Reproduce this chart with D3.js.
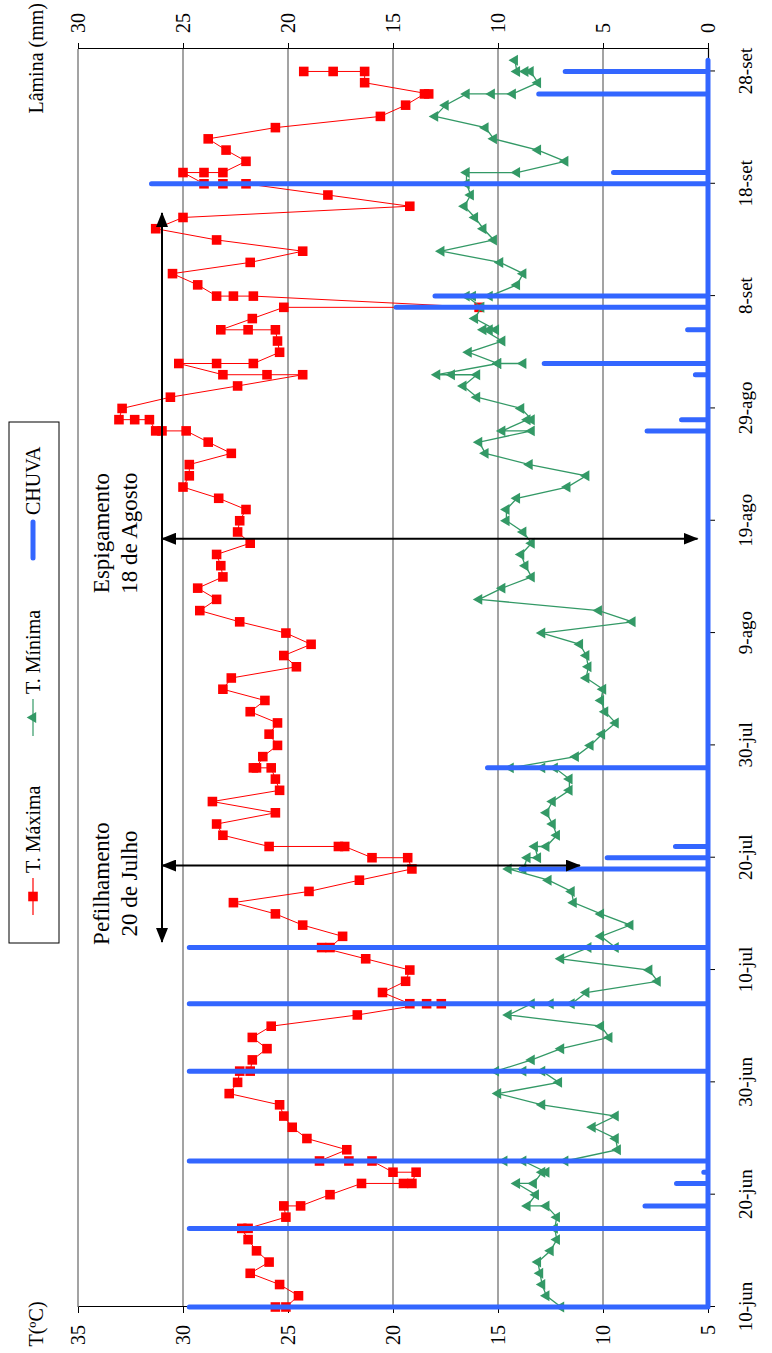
<!DOCTYPE html>
<html>
<head>
<meta charset="utf-8">
<script src="https://cdn.jsdelivr.net/npm/d3@7"></script>
<style>
  body { margin: 0; background: #fff; }
  svg { display: block; }
  text { font-family: "Liberation Serif", "Times New Roman", serif; fill: #000; }
</style>
</head>
<body>
<svg id="chart" width="772" height="1353"></svg>
<script>
// DATA SECTION
// day offsets from 10-jun, labels of the date axis
const dateTicks = [0, 10, 20, 30, 40, 50, 60, 70, 80, 90, 100, 110];
const dateLabels = ["10-jun", "20-jun", "30-jun", "10-jul", "20-jul", "30-jul",
                    "9-ago", "19-ago", "29-ago", "8-set", "18-set", "28-set"];
const tTicks = [5, 10, 15, 20, 25, 30, 35];
const rainTicks = [0, 5, 10, 15, 20, 25, 30];

// [day, °C] in the order of the records (some dates hold several records)
const tMax = [
  [0,25.6],[0,25.1],[1,24.5],[2,25.4],[3,26.8],[4,25.9],[5,26.5],[6,26.9],[7,27.2],[7,26.9],
  [8,25.1],[9,25.2],[9,24.4],[10,23.0],[11,21.5],[11,19.5],[11,19.1],[12,18.9],[12,20.0],
  [13,21.0],[13,22.1],[13,23.5],[14,22.2],[15,24.1],[16,24.8],[17,25.2],[18,25.4],[19,27.8],
  [20,27.4],[21,27.3],[21,26.8],[22,26.7],[23,26.0],[24,26.7],[25,25.8],[26,21.7],
  [27,18.4],[27,17.7],[27,19.2],[28,20.5],[29,19.4],[30,19.2],[31,21.3],[32,23.4],[32,23.0],
  [33,22.4],[34,24.3],[35,25.6],[36,27.6],[37,24.0],[38,21.6],[39,19.1],[40,19.3],[40,21.0],
  [41,22.3],[41,22.6],[41,25.9],[42,28.1],[43,28.4],[44,25.6],[45,28.6],[46,25.4],[47,25.6],
  [48,25.8],[48,26.65],[48,26.5],[49,26.2],[50,25.5],[51,25.9],[52,25.5],[53,26.8],[54,26.1],
  [55,28.1],[56,27.7],[57,24.6],[58,25.2],[59,23.9],[60,25.1],[61,27.3],[62,29.2],[63,28.4],
  [64,29.3],[65,28.1],[66,28.2],[67,28.4],[68,26.8],[69,27.4],[70,27.3],[71,27.0],[72,28.3],
  [73,30.0],[74,29.7],[75,29.7],[76,27.7],[77,28.8],[78,29.85],[78,31.0],[78,31.3],
  [79,31.6],[79,32.3],[79,33.05],[80,32.9],[81,30.6],[82,27.4],[83,24.3],[83,26.0],[83,28.1],
  [84,30.2],[84,28.4],[84,26.65],[85,25.4],[86,25.5],[87,25.6],[87,26.9],[87,28.2],[88,26.7],
  [89,25.2],[89,15.9],[90,26.65],[90,27.6],[90,28.4],[91,29.3],[92,30.5],[93,26.8],[94,24.3],
  [95,28.4],[96,31.3],[97,30.0],[98,19.2],[99,23.1],[100,27.0],[100,28.1],[100,29.0],
  [101,30.0],[101,29.0],[101,28.1],[102,27.0],[103,27.95],[104,28.8],[105,25.6],[106,20.6],
  [107,19.4],[108,18.5],[108,18.3],[109,21.35],[110,21.35],[110,22.85],[110,24.25]
];

const tMin = [
  [0,12.0],[1,12.7],[2,12.9],[3,13.0],[4,13.1],[5,12.5],[6,12.2],[7,12.3],[8,12.2],
  [9,12.7],[9,13.6],[10,13.2],[11,14.1],[11,13.3],[12,12.9],[12,12.7],[13,13.8],[13,14.7],
  [13,11.8],[14,9.3],[15,9.4],[16,10.5],[17,9.4],[18,12.9],[19,15.0],[20,12.1],
  [21,12.9],[21,13.8],[21,15.1],[22,13.4],[23,12.0],[24,9.7],[25,10.1],[26,14.5],
  [27,13.4],[27,12.5],[27,11.5],[28,10.8],[29,7.4],[30,7.8],[31,12.0],[32,10.7],[32,9.4],
  [33,10.1],[34,8.7],[35,10.1],[36,11.4],[37,11.5],[38,12.6],[39,14.5],[39,13.8],
  [40,13.6],[40,13.1],[41,13.25],[41,12.7],[42,12.2],[43,12.4],[44,12.7],[45,12.4],
  [46,11.6],[47,11.6],[48,12.3],[48,12.9],[48,14.4],[49,11.3],[50,10.6],[51,10.05],
  [52,9.4],[53,9.9],[54,10.1],[55,10.0],[56,10.8],[57,10.7],[58,10.8],[59,11.1],[60,12.9],
  [61,8.6],[62,10.2],[63,15.9],[64,14.8],[65,13.4],[66,13.7],[67,13.9],[68,13.4],[69,13.8],
  [70,14.6],[71,14.6],[72,14.1],[73,11.7],[74,10.8],[75,13.5],[76,15.6],[77,15.9],
  [78,13.4],[78,14.8],[79,13.6],[79,13.4],[80,13.9],[81,16.0],[82,16.65],[83,16.0],
  [83,17.2],[83,17.9],[84,15.0],[84,13.8],[84,15.0],[85,16.4],[86,14.8],[87,15.7],[87,15.4],
  [87,15.1],[88,16.1],[89,15.8],[90,16.5],[90,16.2],[90,15.4],[91,14.1],[92,13.8],[93,14.9],
  [94,17.7],[95,15.2],[96,15.7],[97,16.1],[98,16.6],[99,16.3],[100,16.5],[101,16.5],
  [101,14.1],[102,11.8],[103,13.1],[104,15.2],[105,15.6],[106,18.0],[107,17.5],[108,16.5],
  [108,15.3],[108,14.3],[109,13.1],[110,13.45],[110,13.7],[110,14.1],[111,14.2]
];

// rain (mm): days with rain and the amount
const rainDays = [0, 7, 9, 11, 12, 13, 21, 27, 32, 39, 40, 41, 48, 78, 79, 83, 84, 87, 89, 90, 100, 101, 108, 110];
const rainMm   = [24.7, 24.7, 3.0, 1.5, 0.2, 24.7, 24.7, 24.7, 24.7, 8.9, 4.8, 1.55, 10.5, 2.9, 1.26, 0.6, 7.8, 0.97, 14.85, 13.0, 26.5, 4.5, 8.06, 6.8];
const lastDay = 111;

// CHART SECTION
// the chart is drawn normally and then turned a quarter turn to the left
const W = 1258, H = 630;
const svg = d3.select('#chart');
const g = svg.append('g').attr('transform', 'translate(78,1307) rotate(-90)');

const x = d3.scaleLinear().domain([0, 112]).range([0, W]);
const yT = d3.scaleLinear().domain([5, 35]).range([H, 0]);
const yR = d3.scaleLinear().domain([0, 30]).range([H, 0]);

// grid lines
g.append('g').attr('class', 'grid')
  .selectAll('line')
  .data(tTicks.filter(t => t > 5))
  .enter().append('line')
  .attr('x1', 0).attr('x2', W)
  .attr('y1', d => yT(d)).attr('y2', d => yT(d))
  .attr('stroke', '#666').attr('stroke-width', 1.2);

// axes
let styleAxis = function(sel, size) {
  sel.select('.domain').attr('stroke', '#000').attr('stroke-width', 1.2);
  sel.selectAll('.tick line').attr('stroke', '#000');
  sel.selectAll('.tick text')
    .attr('font-family', '"Liberation Serif", serif')
    .attr('font-size', size)
    .attr('fill', '#000');
};

g.append('g')
  .call(d3.axisLeft(yT).tickValues(tTicks).tickSize(6).tickSizeOuter(0).tickPadding(12))
  .call(sel => styleAxis(sel, 20));

g.append('g')
  .attr('transform', `translate(${W},0)`)
  .call(d3.axisRight(yR).tickValues(rainTicks).tickSize(6).tickSizeOuter(0).tickPadding(10))
  .call(sel => styleAxis(sel, 20));

g.append('g')
  .attr('transform', `translate(0,${H})`)
  .call(d3.axisBottom(x).tickValues(dateTicks).tickFormat((d, i) => dateLabels[i])
    .tickSize(7).tickSizeOuter(0).tickPadding(24))
  .call(sel => styleAxis(sel, 19));

// axis titles
g.append('text')
  .attr('x', -17).attr('y', -35)
  .attr('text-anchor', 'middle')
  .attr('font-size', 20)
  .text('T(ºC)');

g.append('text')
  .attr('x', 1304).attr('y', -35)
  .attr('text-anchor', 'end')
  .attr('font-size', 20)
  .text('Lâmina (mm)');

// temperature series
let line = d3.line().x(d => x(d[0]));

g.append('path')
  .datum(tMax)
  .attr('fill', 'none')
  .attr('stroke', '#ff0000')
  .attr('stroke-width', 1)
  .attr('d', line.y(d => yT(d[1])));

g.append('g').selectAll('path')
  .data(tMax)
  .enter().append('path')
  .attr('transform', d => `translate(${x(d[0])},${yT(d[1])})`)
  .attr('d', d3.symbol(d3.symbolSquare, 92))
  .attr('fill', '#ff0000');

g.append('path')
  .datum(tMin)
  .attr('fill', 'none')
  .attr('stroke', '#339966')
  .attr('stroke-width', 1.3)
  .attr('d', d3.line().x(d => x(d[0])).y(d => yT(d[1])));

g.append('g').selectAll('path')
  .data(tMin)
  .enter().append('path')
  .attr('transform', d => `translate(${x(d[0])},${yT(d[1])})`)
  .attr('d', d3.symbol(d3.symbolTriangle, 52))
  .attr('fill', '#339966');

// rain: one line on the zero level with a spike on every rainy date
const rainPts = [];
for (let d = 0; d <= lastDay; d++) {
  rainPts.push([d, 0]);
  let i = rainDays.indexOf(d);
  if (i >= 0) rainPts.push([d, rainMm[i]], [d, 0]);
}

g.append('path')
  .datum(rainPts)
  .attr('fill', 'none')
  .attr('stroke', '#3366ff')
  .attr('stroke-width', 5)
  .attr('stroke-linejoin', 'round')
  .attr('stroke-linecap', 'round')
  .attr('d', d3.line().x(d => x(d[0])).y(d => yR(d[1])));

// annotations
const defs = svg.append('defs');
defs.append('marker')
  .attr('id', 'head')
  .attr('viewBox', '0 0 15 12')
  .attr('markerWidth', 15).attr('markerHeight', 12)
  .attr('markerUnits', 'userSpaceOnUse')
  .attr('refX', 14).attr('refY', 6)
  .attr('orient', 'auto-start-reverse')
  .append('path').attr('d', 'M0,0L15,6L0,12Z').attr('fill', '#000');

let arrow = function(x1, y1, x2, y2) {
  g.append('line')
    .attr('x1', x1).attr('y1', y1).attr('x2', x2).attr('y2', y2)
    .attr('stroke', '#000').attr('stroke-width', 2)
    .attr('marker-start', 'url(#head)').attr('marker-end', 'url(#head)');
};

arrow(x(32.5), yT(31), x(97.4), yT(31));
arrow(x(39.3), yT(31), x(39.3), yT(11.1));
arrow(x(68.4), yT(31), x(68.4), yT(5.5));

let note = function(day, lines) {
  g.append('text')
    .attr('text-anchor', 'middle')
    .attr('font-size', 23)
    .selectAll('tspan')
    .data(lines)
    .enter().append('tspan')
    .attr('x', x(day))
    .attr('y', (d, i) => 31 + i * 28)
    .text(d => d);
};
note(37.7, ['Pefilhamento', '20 de Julho']);
note(68.9, ['Espigamento', '18 de Agosto']);

// legend
const legend = g.append('g').attr('transform', 'translate(364,-69)');
legend.append('rect')
  .attr('width', 521).attr('height', 50)
  .attr('fill', '#fff').attr('stroke', '#000').attr('stroke-width', 1);

const legendItems = [
  {name: 'T. Máxima', color: '#ff0000', at: 28, kind: 'square'},
  {name: 'T. Mínima', color: '#339966', at: 207, kind: 'triangle'},
  {name: 'CHUVA', color: '#3366ff', at: 383, kind: 'bar'}
];

legendItems.forEach(function(it) {
  let item = legend.append('g').attr('transform', `translate(${it.at},24)`);
  if (it.kind === 'bar') {
    item.append('line').attr('x1', 2).attr('x2', 38)
      .attr('stroke', it.color).attr('stroke-width', 5).attr('stroke-linecap', 'round');
  } else {
    item.append('line').attr('x1', 0).attr('x2', 37)
      .attr('stroke', it.color).attr('stroke-width', 1.2);
    item.append('path')
      .attr('transform', 'translate(18.5,0)')
      .attr('d', d3.symbol(it.kind === 'square' ? d3.symbolSquare : d3.symbolTriangle,
                           it.kind === 'square' ? 92 : 52))
      .attr('fill', it.color);
  }
  item.append('text')
    .attr('x', it.kind === 'bar' ? 45 : 42)
    .attr('dy', '0.35em')
    .attr('font-size', 20)
    .text(it.name);
});
</script>
</body>
</html>
